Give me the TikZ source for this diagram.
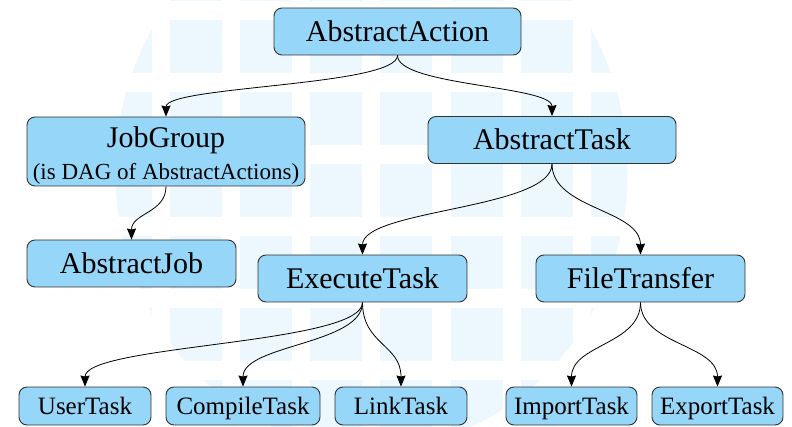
\documentclass[tikz,border=0pt]{standalone}
\usepackage{fontspec}
\setmainfont{Liberation Serif}
\usepackage{tikz}
\usetikzlibrary{arrows.meta,calc}

\definecolor{azulcaja}{RGB}{150,214,248}
\definecolor{azulmarca}{RGB}{236,247,254}

\tikzset{
  clase/.style={draw=black!80, line width=0.9pt, rounded corners=8pt,
    fill=azulcaja, inner sep=0pt, minimum height=47pt,
    text height=20pt, text depth=0pt, font=\fontsize{30}{32}\selectfont},
  hoja/.style={clase, minimum height=38pt, text height=16.5pt,
    font=\fontsize{25}{27}\selectfont},
  arco/.style={to path={let \p1=(\tikztostart), \p2=(\tikztotarget) in
    .. controls (\x1,{(\y1+\y2)/2}) and (\x2,{(\y1+\y2)/2}) .. (\tikztotarget)}},
}

\begin{document}
\begin{tikzpicture}[x=1pt,y=1pt,->,>={Stealth[length=11pt,width=9pt,inset=1pt]},line width=0.8pt]
  \useasboundingbox (0,0) rectangle (792,-427);

  % Marca de agua
  \begin{scope}
    \clip (371.5,-171.5) ellipse [x radius=256pt, y radius=277pt];
    \foreach \i in {-1,...,8}
      \foreach \j in {-1,...,6}
        \fill[azulmarca] ({100+70.1*\i},{-20-72*\j}) rectangle +(52,-53);
  \end{scope}

  % Nodos (nivel 1 y 2)
  \node[clase, minimum width=247pt] (accion) at (397.5,-31.5) {AbstractAction};
  \node[clase, minimum width=278pt, minimum height=69pt, align=center,
        text height=62pt, text depth=5pt] (grupo) at (166,-151.5)
        {JobGroup\\{\fontsize{23}{23}\selectfont (is DAG of AbstractActions)}};
  \node[clase, minimum width=248pt] (tarea) at (552,-140) {AbstractTask};

  % Nodos (nivel 3)
  \node[clase, minimum width=209pt] (trabajo) at (131.5,-263.5) {AbstractJob};
  \node[clase, minimum width=209pt] (ejecuta) at (362.5,-278.5) {ExecuteTask};
  \node[clase, minimum width=209pt] (transfiere) at (640.5,-278.5) {FileTransfer};

  % Hojas
  \node[hoja, minimum width=132pt] (usuario) at (85,-406)    {UserTask};
  \node[hoja, minimum width=154pt] (compila) at (243,-406)   {CompileTask};
  \node[hoja, minimum width=132pt] (enlaza)  at (401,-406)   {LinkTask};
  \node[hoja, minimum width=131pt] (importa) at (571.5,-406) {ImportTask};
  \node[hoja, minimum width=131pt] (exporta) at (717.5,-406) {ExportTask};

  % Herencia
  \path (accion.south) edge[arco] (grupo.north);
  \path (accion.south) edge[arco] (tarea.north);
  \path (grupo.south)  edge[arco] (trabajo.north);
  \path (tarea.south)  edge[arco] (ejecuta.north);
  \path (tarea.south)  edge[arco] (transfiere.north);
  \path (ejecuta.south) edge[arco] (usuario.north);
  \path (ejecuta.south) edge[arco] (compila.north);
  \path (ejecuta.south) edge[arco] (enlaza.north);
  \path (transfiere.south) edge[arco] (importa.north);
  \path (transfiere.south) edge[arco] (exporta.north);
\end{tikzpicture}
\end{document}
